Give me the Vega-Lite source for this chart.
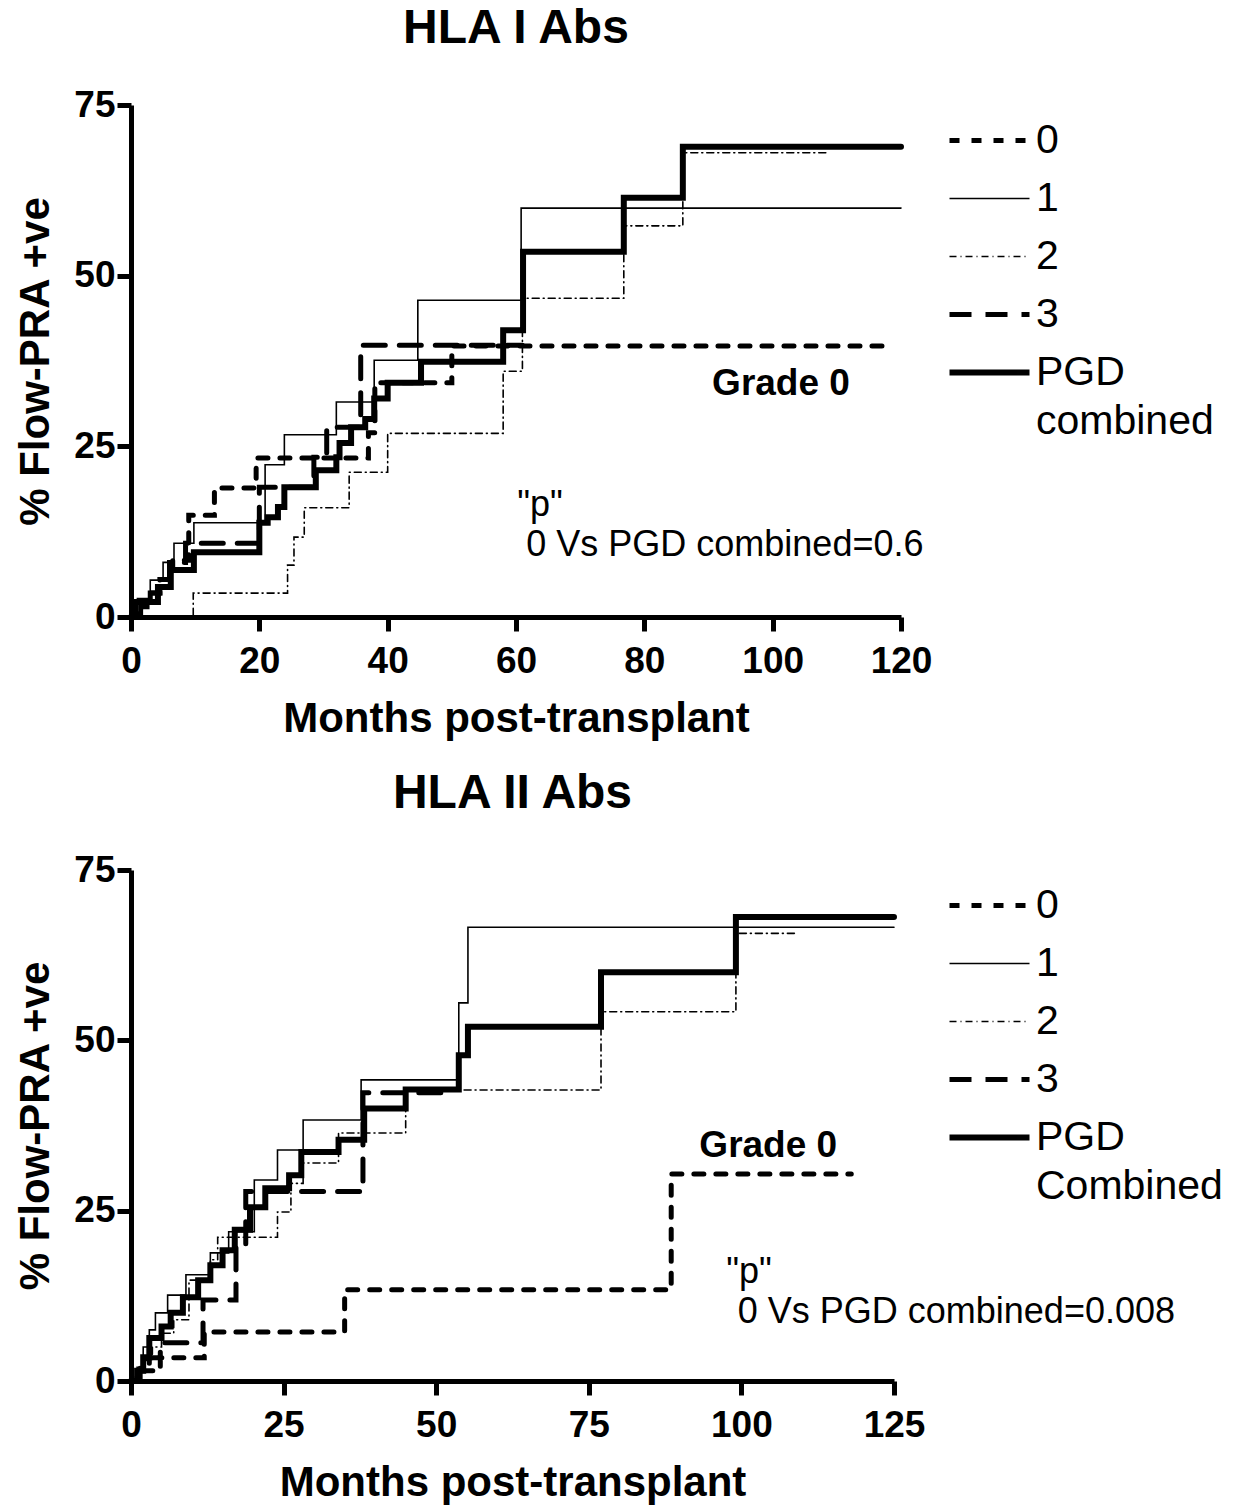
{
  "$schema": "https://vega.github.io/schema/vega-lite/v6.json",
  "background": "white",
  "padding": {"left": 14, "top": 5, "right": 5, "bottom": 5},
  "spacing": 31,
  "config": {
    "view": {"stroke": null},
    "font": "Liberation Sans",
    "axis": {"domainColor": "black", "domainWidth": 5, "tickColor": "black", "tickWidth": 5, "tickSize": 14, "labelFont": "Liberation Sans", "labelFontWeight": "bold", "labelFontSize": 37, "labelColor": "black", "titleFont": "Liberation Sans", "titleFontWeight": "bold", "titleFontSize": 42, "titleColor": "black", "grid": false},
    "axisX": {"labelPadding": 12, "titlePadding": 19, "labelFlush": false},
    "axisY": {"labelPadding": 2, "titlePadding": 16},
    "title": {"font": "Liberation Sans", "fontSize": 48, "fontWeight": "bold", "color": "black", "anchor": "middle", "frame": "group", "offset": 33},
    "legend": {"orient": "none", "legendX": 838, "legendY": 15, "labelFont": "Liberation Sans", "labelFontSize": 41, "labelColor": "black", "symbolType": "stroke", "symbolSize": 6400, "symbolStrokeColor": "black", "rowPadding": 16, "padding": 0, "labelOffset": 26, "labelLimit": 400}
  },
  "resolve": {"scale": {"x": "independent", "y": "independent", "strokeDash": "independent"}, "legend": {"strokeDash": "independent"}},
  "datasets": {
    "top": [
      {"g": "0", "m": 0, "p": 0}, {"g": "0", "m": 1, "p": 1.5}, {"g": "0", "m": 2.5, "p": 3.5}, {"g": "0", "m": 4.5, "p": 5.5}, {"g": "0", "m": 6.5, "p": 8.3}, {"g": "0", "m": 9, "p": 14.9}, {"g": "0", "m": 13, "p": 18.9}, {"g": "0", "m": 19.5, "p": 23.3}, {"g": "0", "m": 37, "p": 27}, {"g": "0", "m": 38, "p": 34.3}, {"g": "0", "m": 50, "p": 39.7}, {"g": "0", "m": 117.6, "p": 39.7},
      {"g": "1", "m": 0, "p": 0}, {"g": "1", "m": 1, "p": 2.7}, {"g": "1", "m": 3, "p": 5.4}, {"g": "1", "m": 5, "p": 8}, {"g": "1", "m": 6.7, "p": 10.8}, {"g": "1", "m": 9.8, "p": 13.8}, {"g": "1", "m": 20.9, "p": 22.3}, {"g": "1", "m": 23.9, "p": 26.7}, {"g": "1", "m": 32, "p": 31.5}, {"g": "1", "m": 37.9, "p": 37.6}, {"g": "1", "m": 44.7, "p": 46.4}, {"g": "1", "m": 60.8, "p": 59.9}, {"g": "1", "m": 120, "p": 59.9},
      {"g": "2", "m": 0, "p": 0}, {"g": "2", "m": 9.7, "p": 3.5}, {"g": "2", "m": 24.4, "p": 7.6}, {"g": "2", "m": 25.4, "p": 11.7}, {"g": "2", "m": 27, "p": 16}, {"g": "2", "m": 34, "p": 21.2}, {"g": "2", "m": 40, "p": 26.9}, {"g": "2", "m": 58, "p": 36}, {"g": "2", "m": 61, "p": 46.7}, {"g": "2", "m": 76.8, "p": 57.3}, {"g": "2", "m": 86, "p": 68}, {"g": "2", "m": 108.8, "p": 68},
      {"g": "3", "m": 0, "p": 0}, {"g": "3", "m": 1.5, "p": 1.5}, {"g": "3", "m": 3, "p": 3.5}, {"g": "3", "m": 4.5, "p": 5.5}, {"g": "3", "m": 6, "p": 8}, {"g": "3", "m": 8.5, "p": 10.8}, {"g": "3", "m": 20, "p": 19}, {"g": "3", "m": 28.5, "p": 23.4}, {"g": "3", "m": 30.5, "p": 27.8}, {"g": "3", "m": 35.8, "p": 39.8}, {"g": "3", "m": 61, "p": 39.8},
      {"g": "PGD combined", "m": 0, "p": 0}, {"g": "PGD combined", "m": 0.5, "p": 2.2}, {"g": "PGD combined", "m": 4.2, "p": 4.4}, {"g": "PGD combined", "m": 6.2, "p": 6.9}, {"g": "PGD combined", "m": 9.8, "p": 9.5}, {"g": "PGD combined", "m": 20, "p": 13.8}, {"g": "PGD combined", "m": 21.3, "p": 14.6}, {"g": "PGD combined", "m": 22.9, "p": 16.1}, {"g": "PGD combined", "m": 23.9, "p": 19}, {"g": "PGD combined", "m": 28.8, "p": 21.5}, {"g": "PGD combined", "m": 32, "p": 23.4}, {"g": "PGD combined", "m": 32.5, "p": 25.5}, {"g": "PGD combined", "m": 34.3, "p": 27.8}, {"g": "PGD combined", "m": 36.5, "p": 29}, {"g": "PGD combined", "m": 37.9, "p": 32}, {"g": "PGD combined", "m": 40, "p": 34.3}, {"g": "PGD combined", "m": 45.2, "p": 37.4}, {"g": "PGD combined", "m": 58, "p": 42}, {"g": "PGD combined", "m": 61.1, "p": 53.5}, {"g": "PGD combined", "m": 76.8, "p": 61.4}, {"g": "PGD combined", "m": 86, "p": 68.9}, {"g": "PGD combined", "m": 120, "p": 68.9}
    ],
    "bottom": [
      {"g": "0", "m": 0, "p": 0}, {"g": "0", "m": 1, "p": 1.5}, {"g": "0", "m": 4.8, "p": 3.4}, {"g": "0", "m": 12, "p": 7.2}, {"g": "0", "m": 35, "p": 13.4}, {"g": "0", "m": 88.5, "p": 30.4}, {"g": "0", "m": 118, "p": 30.4},
      {"g": "1", "m": 0, "p": 0}, {"g": "1", "m": 1, "p": 2}, {"g": "1", "m": 2, "p": 5}, {"g": "1", "m": 3, "p": 7.5}, {"g": "1", "m": 4, "p": 10}, {"g": "1", "m": 6, "p": 12.6}, {"g": "1", "m": 9, "p": 15.6}, {"g": "1", "m": 13, "p": 18.8}, {"g": "1", "m": 16, "p": 21.9}, {"g": "1", "m": 20.2, "p": 29.5}, {"g": "1", "m": 24, "p": 33.9}, {"g": "1", "m": 28.2, "p": 38.3}, {"g": "1", "m": 37.7, "p": 44.2}, {"g": "1", "m": 53.7, "p": 55.5}, {"g": "1", "m": 55.2, "p": 66.6}, {"g": "1", "m": 125, "p": 66.6},
      {"g": "2", "m": 0, "p": 0}, {"g": "2", "m": 1, "p": 1.5}, {"g": "2", "m": 2, "p": 3}, {"g": "2", "m": 3.5, "p": 5}, {"g": "2", "m": 5, "p": 7}, {"g": "2", "m": 7, "p": 9}, {"g": "2", "m": 9.5, "p": 14.8}, {"g": "2", "m": 13, "p": 17.8}, {"g": "2", "m": 14.2, "p": 21.1}, {"g": "2", "m": 24, "p": 24.8}, {"g": "2", "m": 26.2, "p": 29}, {"g": "2", "m": 28.2, "p": 32}, {"g": "2", "m": 34, "p": 36.4}, {"g": "2", "m": 45, "p": 42.7}, {"g": "2", "m": 77, "p": 54.2}, {"g": "2", "m": 99.1, "p": 65.7}, {"g": "2", "m": 109.3, "p": 65.7},
      {"g": "3", "m": 0, "p": 0}, {"g": "3", "m": 1.5, "p": 2}, {"g": "3", "m": 3, "p": 3.4}, {"g": "3", "m": 4.8, "p": 5.6}, {"g": "3", "m": 11.8, "p": 11.9}, {"g": "3", "m": 17.2, "p": 19.7}, {"g": "3", "m": 18.8, "p": 27.8}, {"g": "3", "m": 38, "p": 42.3}, {"g": "3", "m": 52, "p": 42.3},
      {"g": "PGD Combined", "m": 0, "p": 0}, {"g": "PGD Combined", "m": 1, "p": 1.5}, {"g": "PGD Combined", "m": 2, "p": 3.5}, {"g": "PGD Combined", "m": 3, "p": 6.3}, {"g": "PGD Combined", "m": 5, "p": 8}, {"g": "PGD Combined", "m": 6.5, "p": 10}, {"g": "PGD Combined", "m": 8.5, "p": 12.3}, {"g": "PGD Combined", "m": 11, "p": 14.8}, {"g": "PGD Combined", "m": 13, "p": 17}, {"g": "PGD Combined", "m": 15, "p": 19.2}, {"g": "PGD Combined", "m": 17, "p": 22.2}, {"g": "PGD Combined", "m": 19.5, "p": 25.5}, {"g": "PGD Combined", "m": 22, "p": 28.3}, {"g": "PGD Combined", "m": 25.9, "p": 30.2}, {"g": "PGD Combined", "m": 27.9, "p": 33.6}, {"g": "PGD Combined", "m": 34, "p": 35.4}, {"g": "PGD Combined", "m": 38.2, "p": 40}, {"g": "PGD Combined", "m": 45, "p": 42.8}, {"g": "PGD Combined", "m": 53.7, "p": 47.8}, {"g": "PGD Combined", "m": 55.2, "p": 52}, {"g": "PGD Combined", "m": 77, "p": 60}, {"g": "PGD Combined", "m": 99.1, "p": 68.1}, {"g": "PGD Combined", "m": 125, "p": 68.1}
    ]
  },
  "vconcat": [
    {
      "title": "HLA I Abs",
      "width": 770,
      "height": 512,
      "layer": [
        {
          "data": {"name": "top"},
          "mark": {"type": "line", "interpolate": "step-after", "color": "black", "strokeCap": "round"},
          "encoding": {
            "x": {"field": "m", "type": "quantitative", "scale": {"domain": [0, 120], "nice": false}, "axis": {"values": [0, 20, 40, 60, 80, 100, 120], "title": "Months post-transplant"}},
            "y": {"field": "p", "type": "quantitative", "scale": {"domain": [0, 75], "nice": false}, "axis": {"values": [0, 25, 50, 75], "title": "%  Flow-PRA +ve"}},
            "detail": {"field": "g", "type": "nominal"},
            "strokeDash": {"field": "g", "type": "nominal", "scale": {"domain": ["0", "1", "2", "3", "PGD combined"], "range": [[10, 12], [1, 0], [7, 4, 1, 4], [22, 14], [1, 0]]}, "legend": {"title": null, "labelExpr": "datum.label == 'PGD combined' ? ['PGD', 'combined'] : datum.label", "encode": {"symbols": {"update": {"strokeWidth": {"signal": "datum.value == '0' || datum.value == '3' ? 5 : (datum.value == '1' || datum.value == '2' ? 1.6 : 6)"}}}, "labels": {"update": {"lineHeight": {"value": 49}}}}}},
            "strokeWidth": {"condition": [{"test": "datum.g == '0' || datum.g == '3'", "value": 5}, {"test": "datum.g == '1' || datum.g == '2'", "value": 1.6}], "value": 6}
          }
        },
        {"data": {"values": [{}]}, "mark": {"type": "text", "text": "Grade 0", "fontWeight": "bold", "fontSize": 37, "align": "center", "baseline": "middle", "color": "black"}, "encoding": {"x": {"datum": 101.3}, "y": {"datum": 34.1}}},
        {"data": {"values": [{}]}, "mark": {"type": "text", "text": "\"p\"", "fontSize": 36, "align": "left", "baseline": "middle", "color": "black"}, "encoding": {"x": {"datum": 60.2}, "y": {"datum": 16.4}}},
        {"data": {"values": [{}]}, "mark": {"type": "text", "text": "0 Vs PGD combined=0.6", "fontSize": 36, "align": "left", "baseline": "middle", "color": "black"}, "encoding": {"x": {"datum": 61.6}, "y": {"datum": 10.5}}}
      ]
    },
    {
      "title": "HLA II Abs",
      "width": 763,
      "height": 511,
      "layer": [
        {
          "data": {"name": "bottom"},
          "mark": {"type": "line", "interpolate": "step-after", "color": "black", "strokeCap": "round"},
          "encoding": {
            "x": {"field": "m", "type": "quantitative", "scale": {"domain": [0, 125], "nice": false}, "axis": {"values": [0, 25, 50, 75, 100, 125], "title": "Months post-transplant"}},
            "y": {"field": "p", "type": "quantitative", "scale": {"domain": [0, 75], "nice": false}, "axis": {"values": [0, 25, 50, 75], "title": "%  Flow-PRA +ve"}},
            "detail": {"field": "g", "type": "nominal"},
            "strokeDash": {"field": "g", "type": "nominal", "scale": {"domain": ["0", "1", "2", "3", "PGD Combined"], "range": [[10, 12], [1, 0], [7, 4, 1, 4], [22, 14], [1, 0]]}, "legend": {"title": null, "labelExpr": "datum.label == 'PGD Combined' ? ['PGD', 'Combined'] : datum.label", "encode": {"symbols": {"update": {"strokeWidth": {"signal": "datum.value == '0' || datum.value == '3' ? 5 : (datum.value == '1' || datum.value == '2' ? 1.6 : 6)"}}}, "labels": {"update": {"lineHeight": {"value": 49}}}}}},
            "strokeWidth": {"condition": [{"test": "datum.g == '0' || datum.g == '3'", "value": 5}, {"test": "datum.g == '1' || datum.g == '2'", "value": 1.6}], "value": 6}
          }
        },
        {"data": {"values": [{}]}, "mark": {"type": "text", "text": "Grade 0", "fontWeight": "bold", "fontSize": 37, "align": "center", "baseline": "middle", "color": "black"}, "encoding": {"x": {"datum": 104.4}, "y": {"datum": 34.5}}},
        {"data": {"values": [{}]}, "mark": {"type": "text", "text": "\"p\"", "fontSize": 36, "align": "left", "baseline": "middle", "color": "black"}, "encoding": {"x": {"datum": 97.5}, "y": {"datum": 16}}},
        {"data": {"values": [{}]}, "mark": {"type": "text", "text": "0 Vs PGD combined=0.008", "fontSize": 36, "align": "left", "baseline": "middle", "color": "black"}, "encoding": {"x": {"datum": 99.4}, "y": {"datum": 10.1}}}
      ]
    }
  ]
}
